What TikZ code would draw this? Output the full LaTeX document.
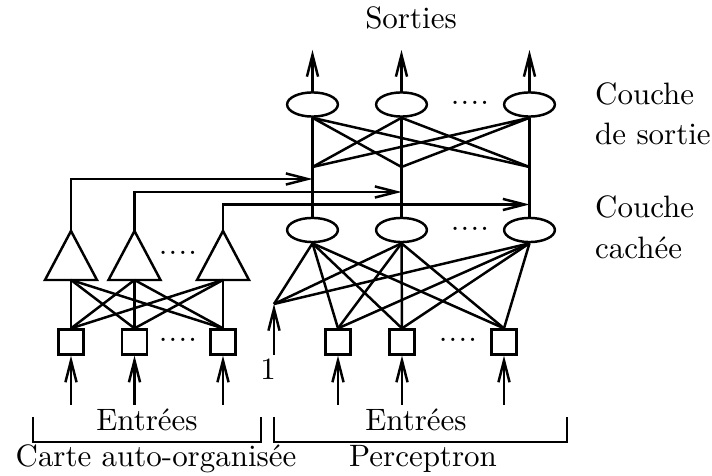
\documentclass[tikz,border=0pt]{standalone}
\usetikzlibrary{arrows.meta,shapes.geometric}
\begin{document}
\begin{tikzpicture}[x=0.323pt,y=-0.323pt, line width=0.8pt,
  neur/.style={draw,ellipse,minimum width=16.4pt,minimum height=7.8pt,inner sep=0pt},
  unit/.style={draw,rectangle,minimum size=8pt,inner sep=0pt},
  arr/.style={-{Straight Barb[length=7pt,width=3.6pt,line width=0.8pt]}},
  lbl/.style={inner sep=0pt,anchor=base},
  dotslbl/.style={inner sep=0pt,anchor=base}]
\useasboundingbox (0,0) rectangle (712,476);

% ---------- Perceptron: output layer ----------
\node[neur] (o1) at (312.5,104.5) {};
\node[neur] (o2) at (401.5,104.5) {};
\node[neur] (o3) at (529.5,104.5) {};
\node[dotslbl] (od) at (470,105) {.\kern0.4pt.\kern0.4pt.\kern0.4pt.};
\coordinate (s1) at (312.5,50);
\coordinate (s2) at (401.5,50);
\coordinate (s3) at (529.5,50);
\foreach \i in {1,2,3} \draw[arr] (o\i.north) -- (s\i);

% ---------- hidden layer ----------
\node[neur] (h1) at (312.5,230) {};
\node[neur] (h2) at (401.5,230) {};
\node[neur] (h3) at (529.5,230) {};
\node[dotslbl] (hd) at (470,231) {.\kern0.4pt.\kern0.4pt.\kern0.4pt.};
\foreach \i in {1,2,3} \draw (h\i.north) -- (o\i.south);

\coordinate (m1) at (312.5,167);
\coordinate (m2) at (401.5,167);
\coordinate (m3) at (529.5,167);
\draw (o1.south) -- (m2) (o1.south) -- (m3);
\draw (o2.south) -- (m1) (o2.south) -- (m3);
\draw (o3.south) -- (m1) (o3.south) -- (m2);

% ---------- perceptron inputs ----------
\node[unit] (p1) at (338,342) {};
\node[unit] (p2) at (402,342) {};
\node[unit] (p3) at (504,342) {};
\node[dotslbl] (pd) at (458,342) {.\kern0.4pt.\kern0.4pt.\kern0.4pt.};
\foreach \i in {1,2,3} \foreach \j in {1,2,3} \draw (p\i.north) -- (h\j.south);
\coordinate (pi1) at (338,405);
\coordinate (pi2) at (402,405);
\coordinate (pi3) at (504,405);
\foreach \i in {1,2,3} \draw[arr] (pi\i) -- (p\i.south);

% bias
\coordinate (b) at (274,304);
\coordinate (b0) at (274,355);
\draw[arr] (b0) -- (b);
\foreach \j in {1,2,3} \draw (b) -- (h\j.south);
\node[lbl] (one) at (268,380) {1};

% ---------- self-organising map ----------
\foreach \i/\x in {1/71,2/134.5,3/223}{
  \coordinate (a\i) at (\x,231);
  \coordinate (c\i) at (\x,280);
  \draw (a\i) -- (\x-26,280) -- (\x+26,280) -- cycle;
}
\node[dotslbl] (td) at (178,255) {.\kern0.4pt.\kern0.4pt.\kern0.4pt.};
\node[unit] (q1) at (71,342) {};
\node[unit] (q2) at (134.5,342) {};
\node[unit] (q3) at (223,342) {};
\node[dotslbl] (qd) at (178,342) {.\kern0.4pt.\kern0.4pt.\kern0.4pt.};
\foreach \i in {1,2,3} \foreach \j in {1,2,3} \draw (q\i.north) -- (c\j);
\coordinate (qi1) at (71,405);
\coordinate (qi2) at (134.5,405);
\coordinate (qi3) at (223,405);
\foreach \i in {1,2,3} \draw[arr] (qi\i) -- (q\i.south);

% map outputs to perceptron
\coordinate (e1) at (312.5,179);
\coordinate (e2) at (401.5,192);
\coordinate (e3) at (529.5,204.5);
\foreach \i in {1,2,3} \draw[arr] (a\i) |- (e\i);

% ---------- brackets and labels ----------
\coordinate (k1) at (33,417);
\coordinate (k2) at (261,417);
\coordinate (k3) at (274,417);
\coordinate (k4) at (567,417);
\draw (k1) -- (33,442) -- (261,442) -- (k2);
\draw (k3) -- (274,442) -- (567,442) -- (k4);

\node[lbl] (sorties) at (411,29) {Sorties};
\node[lbl,anchor=base west] (cs1) at (594,105) {Couche};
\node[lbl,anchor=base west] (cs2) at (594,145) {de sortie};
\node[lbl,anchor=base west] (cc1) at (594,218) {Couche};
\node[lbl,anchor=base west] (cc2) at (594,259) {cach\'ee};
\node[lbl] (ent1) at (147,431) {Entr\'ees};
\node[lbl] (ent2) at (416,431) {Entr\'ees};
\node[lbl] (carte) at (156,467) {Carte auto-organis\'ee};
\node[lbl] (perc) at (423,467) {Perceptron};
\end{tikzpicture}
\end{document}
